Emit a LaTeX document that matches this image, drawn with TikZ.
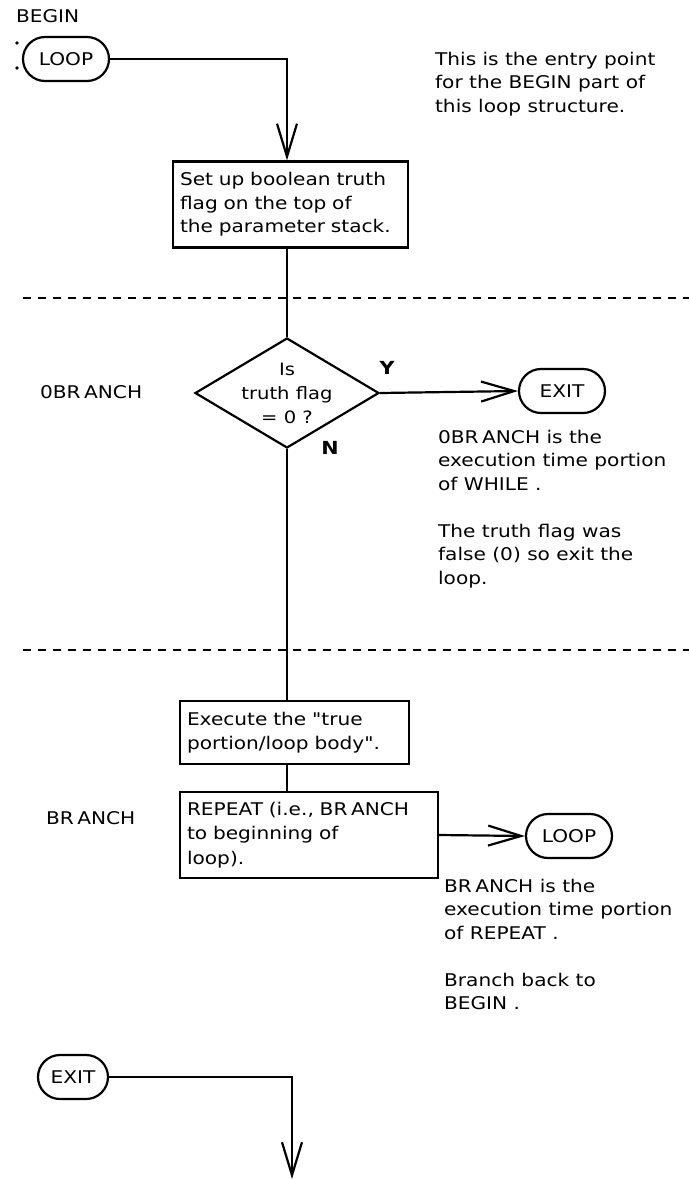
\documentclass[tikz,border=0pt]{standalone}
\usepackage{fontspec}
\setmainfont[FakeStretch=1.15,Ligatures=TeXOff]{DejaVu Sans}
\usetikzlibrary{arrows.meta,shapes.geometric}
\newcommand\myBranch{BR\kern3.5pt ANCH}
\begin{document}
\begin{tikzpicture}[x=1pt,y=-1pt,line width=2.2pt,
  font=\fontsize{17.5}{23.5}\selectfont,
  term/.style={draw,rounded corners=22pt,minimum width=86pt,minimum height=44pt,inner sep=0pt},
  procbox/.style={draw,align=left,inner xsep=7pt,inner ysep=0pt},
  note/.style={align=left,anchor=north west,inner sep=0pt},
  lbl/.style={anchor=west,inner sep=0pt},
  dotnode/.style={circle,fill,inner sep=0pt,minimum size=3.6pt},
  arr/.style={-{Straight Barb[length=33pt,width=20pt]}},
  sepline/.style={dash pattern=on 8pt off 7pt,line width=2pt}]
\useasboundingbox (0,0) rectangle (689,1179);
\fill[white] (0,0) rectangle (689,1179);

\node[lbl] (begin) at (15,16) {BEGIN};
\node[dotnode] (d1) at (17,43) {};
\node[dotnode] (d2) at (17,68) {};
\node[term] (loop1) at (66,59) {LOOP};
\node[note] (t1) at (434,51) {This is the entry point\\for the BEGIN part of\\this loop structure.};
\node[procbox,minimum width=235pt,text width=221pt,minimum height=86pt] (box1) at (290.5,204.5)
  {Set up boolean truth\\flag on the top of\\the parameter stack.};

\draw[sepline] (23,298) -- (689,298);

\node[diamond,draw,minimum width=184pt,minimum height=110pt,inner sep=0pt] (dia) at (287,393) {};
\node[align=center,inner sep=0pt,font=\fontsize{17}{24}\selectfont] (q) at (287,393) {Is\\truth flag\\= 0 ?};
\node[lbl] (ob) at (39,392) {0\myBranch};
\node[font=\fontsize{18}{20}\selectfont\bfseries,inner sep=0pt] (yl) at (387,368) {Y};
\node[font=\fontsize{18}{20}\selectfont\bfseries,inner sep=0pt] (nl) at (330,448) {N};
\node[term] (exit1) at (562,391) {EXIT};
\node[note] (t2) at (437,429) {0\myBranch{} is the\\execution time portion\\of WHILE .};
\node[note] (t3) at (437,523) {The truth flag was\\false (0) so exit the\\loop.};

\draw[sepline] (23,650) -- (689,650);

\node[procbox,minimum width=229pt,text width=215pt,minimum height=63pt] (box2) at (294.5,732.5)
  {Execute the "true\\portion/loop body".};
\node[procbox,minimum width=258pt,text width=244pt,minimum height=86pt,font=\fontsize{17.5}{24.5}\selectfont] (box3) at (309,835)
  {REPEAT (i.e., \myBranch\\to beginning of\\loop).};
\node[lbl] (br) at (45,818) {\myBranch};
\node[term] (loop2) at (569,836) {LOOP};
\node[note] (t4) at (443,878) {\myBranch{} is the\\execution time portion\\of REPEAT .};
\node[note] (t5) at (443,972) {Branch back to\\BEGIN .};

\node[term,minimum width=70pt] (exit2) at (73,1077) {EXIT};
\coordinate (end) at (292,1179);

\draw[arr] (loop1.east) -| (dia.north |- box1.north);
\draw (dia.north |- box1.south) -- (dia.north);
\draw[arr] (dia.east) -- (exit1.west);
\draw (dia.south) -- (dia.south |- box2.north);
\draw (dia.south |- box2.south) -- (dia.south |- box3.north);
\draw[arr] (box3.east) -- (loop2.west);
\draw[arr] (exit2.east) -| (end);
\end{tikzpicture}
\end{document}
